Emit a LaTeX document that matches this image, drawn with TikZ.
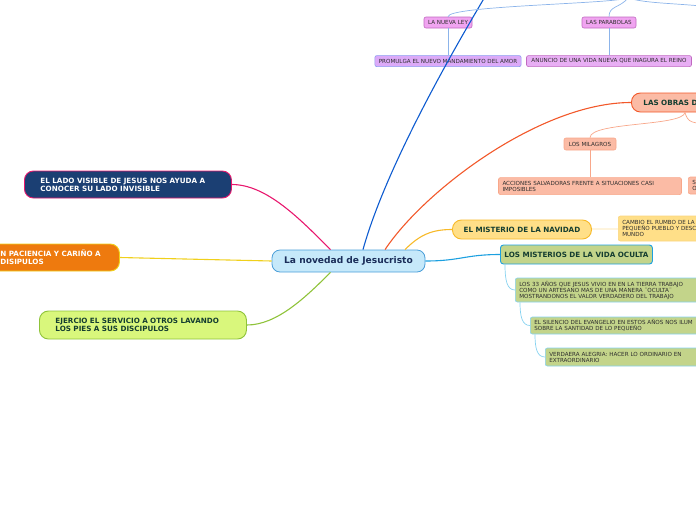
\documentclass[tikz,border=0pt]{standalone}
\usepackage{fontspec}
\setmainfont{DejaVu Sans}
\usepackage{tikz}
\usetikzlibrary{positioning}

\definecolor{coreblue}{HTML}{C6E9FA}
\definecolor{coreline}{HTML}{4A9ED8}
\definecolor{corefont}{HTML}{1B2E5A}
\definecolor{darkgreen}{HTML}{143D30}
\definecolor{ladofill}{HTML}{1B3F73}
\definecolor{ladoline}{HTML}{E8186E}
\definecolor{tratofill}{HTML}{EE7A0E}
\definecolor{tratoline}{HTML}{F0D01B}
\definecolor{servfill}{HTML}{D9F77C}
\definecolor{servline}{HTML}{8FC33A}
\definecolor{navfill}{HTML}{FFDF88}
\definecolor{navline}{HTML}{F7B928}
\definecolor{ocufill}{HTML}{C3D48A}
\definecolor{oculine}{HTML}{1CA0E0}
\definecolor{ocusub}{HTML}{86D2F0}
\definecolor{obrafill}{HTML}{FBBBA5}
\definecolor{obraline}{HTML}{F2582A}
\definecolor{obrasub}{HTML}{F8A78A}
\definecolor{vidaline}{HTML}{0D5BD0}
\definecolor{vidasub}{HTML}{8CB4EA}
\definecolor{leyfill}{HTML}{F0A4F0}
\definecolor{leyline}{HTML}{C06AC0}
\definecolor{amorfill}{HTML}{DCAAF8}
\definecolor{amorline}{HTML}{8C9CF0}
\definecolor{anunfill}{HTML}{E8AEF4}
\definecolor{smallfont}{HTML}{2E2E2E}

\begin{document}
\begin{tikzpicture}[
  x=1pt, y=-1pt,
  core/.style={rectangle, rounded corners=8pt, draw=coreline, fill=coreblue, line width=0.8pt,
               minimum width=153pt, minimum height=22pt, text=corefont,
               font=\fontsize{9.1}{10}\selectfont\bfseries},
  topic/.style={rectangle, rounded corners=9pt, line width=0.9pt, align=left,
                inner xsep=16pt, inner ysep=2pt, font=\fontsize{7.2}{8}\selectfont\bfseries},
  idea/.style={rectangle, rounded corners=2pt, line width=0.6pt, align=left,
               inner xsep=4pt, inner ysep=1.5pt, minimum height=11pt, text=smallfont,
               font=\fontsize{5.6}{6}\selectfont},
  link/.style={line width=1.1pt},
  twig/.style={line width=0.7pt},
]
\useasboundingbox (0,0) rectangle (696,520);
\clip (0,0) rectangle (696,520);

\node[core] (core) at (348.5,261) {La novedad de Jesucristo};

% left side
\node[topic, fill=ladofill, draw=ladoline, text=white, text width=175pt, minimum height=27pt, anchor=west]
  (lado) at (24,184.5) {EL LADO VISIBLE DE JESUS NOS AYUDA A\\CONOCER SU LADO INVISIBLE};
\node[topic, fill=tratofill, draw=tratoline, text=white, text width=103pt, minimum height=27pt, anchor=west]
  (trato) at (-16,257.5) {N PACIENCIA Y CARIÑO A\\DISIPULOS};
\node[topic, fill=servfill, draw=servline, text=darkgreen, text width=175pt, minimum height=28pt, anchor=west]
  (servicio) at (39,325) {EJERCIO EL SERVICIO A OTROS LAVANDO\\LOS PIES A SUS DISCIPULOS};

% right side
\node[topic, fill=navfill, draw=navline, text=darkgreen, minimum width=139pt, minimum height=19pt, inner xsep=6pt, anchor=west]
  (navidad) at (452,229.5) {EL MISTERIO DE LA NAVIDAD};
\node[topic, fill=ocufill, draw=oculine, text=darkgreen, rounded corners=3pt, minimum width=152pt, minimum height=19pt, inner xsep=3pt, anchor=west]
  (oculta) at (500,254.5) {LOS MISTERIOS DE LA VIDA OCULTA};
\node[topic, fill=obrafill, draw=obraline, text=darkgreen, text width=100pt, minimum height=19pt, inner xsep=12pt, anchor=west]
  (obras) at (631,102.5) {LAS OBRAS D};

% top
\node[idea, fill=leyfill, draw=leyline, minimum width=48pt] (ley) at (448,22.5) {LA NUEVA LEY};
\node[idea, fill=leyfill, draw=leyline, minimum width=54pt] (parabolas) at (609,22.5) {LAS PARABOLAS};
\node[idea, fill=amorfill, draw=amorline, minimum width=146pt, below=27pt of ley] (amor) {PROMULGA EL NUEVO MANDAMIENTO DEL AMOR};
\node[idea, fill=anunfill, draw=leyline, minimum width=165pt, below=27pt of parabolas] (anuncio) {ANUNCIO DE UNA VIDA NUEVA QUE INAGURA EL REINO};

% obras
\node[idea, fill=obrafill, draw=obrasub, minimum width=52pt, minimum height=12pt] (milagros) at (590,144) {LOS MILAGROS};
\node[idea, fill=obrafill, draw=obrasub, text width=175pt, minimum height=17pt, below=27pt of milagros]
  (acciones) {ACCIONES SALVADORAS FRENTE A SITUACIONES CASI\\IMPOSIBLES};
\node[idea, fill=obrafill, draw=obrasub, text width=60pt, minimum height=17pt, anchor=west] (otras) at (688,185.5) {S\\O};

% navidad y vida oculta
\node[idea, fill=navfill, draw=navline!60, text width=120pt, minimum height=25pt, anchor=west]
  (cambio) at (618,228.5) {CAMBIO EL RUMBO DE LA\\PEQUEÑO PUEBLO Y DESC\\MUNDO};
\node[idea, fill=ocufill, draw=ocusub, text width=200pt, minimum height=24pt, anchor=west]
  (anos) at (515,290) {LOS 33 AÑOS QUE JESUS VIVIO EN EN LA TIERRA TRABAJO\\COMO UN ARTESANO MAS DE UNA MANERA ¨OCULTA¨\\MOSTRANDONOS EL VALOR VERDADERO DEL TRABAJO};
\node[idea, fill=ocufill, draw=ocusub, text width=200pt, minimum height=17pt, anchor=west]
  (silencio) at (530,325.5) {EL SILENCIO DEL EVANGELIO EN ESTOS AÑOS NOS ILUM\\SOBRE LA SANTIDAD DE LO PEQUEÑO};
\node[idea, fill=ocufill, draw=ocusub, text width=200pt, minimum height=18pt, anchor=west]
  (alegria) at (545,357) {VERDAERA ALEGRIA: HACER LO ORDINARIO EN\\EXTRAORDINARIO};

\coordinate (vidapub) at (495,-20);
\coordinate (vidafork) at (628,-2);
\coordinate (vidamore) at (720,8);
\coordinate (obrasfork) at ([xshift=54pt]obras.south west);
\coordinate (obrasmore) at (720,124);

\draw[link, ladoline] (lado.east) .. controls +(35,0) and +(-30,-30) .. ([xshift=-18pt]core.north);
\draw[link, tratoline] (trato.east) -- (core.west);
\draw[link, servline] (servicio.east) .. controls +(30,0) and +(-25,25) .. ([xshift=-18pt]core.south);
\draw[link, vidaline] ([xshift=14.5pt]core.north) .. controls +(25,-90) and +(-30,50) .. (vidapub);
\draw[link, obraline] ([xshift=36.5pt]core.north) .. controls +(40,-60) and +(-90,0) .. (obras.west);
\draw[link, navline] ([xshift=56.5pt]core.north) .. controls +(15,-15) and +(-20,0) .. (navidad.west);
\draw[link, oculine] (core.east) .. controls +(35,0) and +(-35,0) .. (oculta.west);

\draw[twig, vidasub] (vidafork) .. controls +(-18,6) and +(0,-11) .. (ley.north);
\draw[twig, vidasub] (vidafork) .. controls +(-8,10) and +(0,-11) .. (parabolas.north);
\draw[twig, vidasub] (vidafork) .. controls +(20,6) and +(-40,-5) .. (vidamore);
\draw[twig, vidasub] (ley) -- (amor);
\draw[twig, vidasub] (parabolas) -- (anuncio);
\draw[twig, obrasub] (obrasfork) .. controls +(-2,14) and +(0,-16) .. (milagros.north);
\draw[twig, obrasub] (obrasfork) .. controls +(3,10) and +(-30,0) .. (obrasmore);
\draw[twig, obrasub] (milagros) -- (acciones);
\draw[twig, navline!45] (navidad) -- (cambio);
\draw[twig, ocusub] ([xshift=5pt]oculta.south west) .. controls +(0,16) and +(-8,0) .. (anos.west);
\draw[twig, ocusub] ([xshift=5pt]anos.south west) .. controls +(0,14) and +(-8,0) .. (silencio.west);
\draw[twig, ocusub] ([xshift=5pt]silencio.south west) .. controls +(0,14) and +(-8,0) .. (alegria.west);

\end{tikzpicture}
\end{document}
